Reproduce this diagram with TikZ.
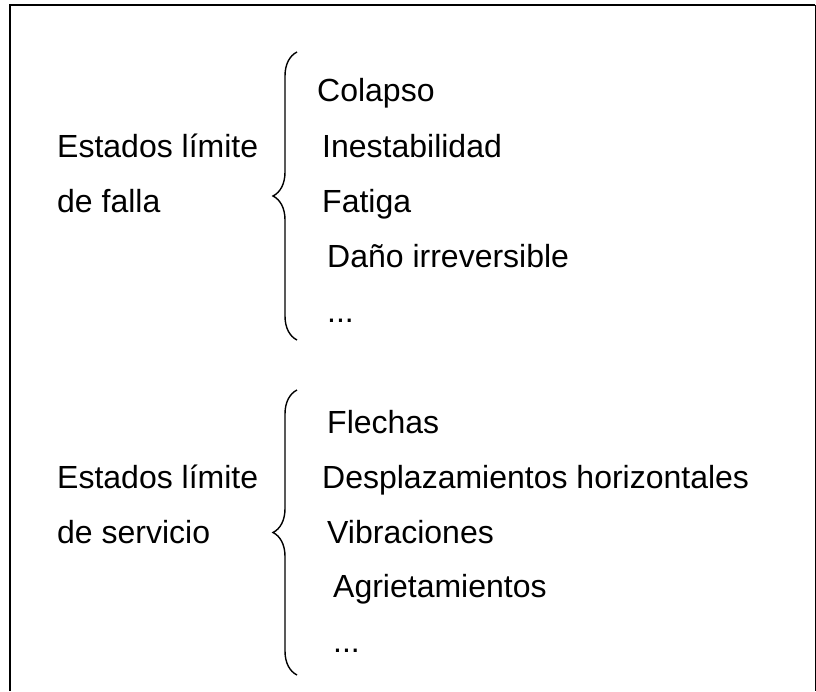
\documentclass[tikz,border=0pt]{standalone}
\usepackage{fontspec}
\setmainfont{Liberation Sans}
\usetikzlibrary{decorations.pathreplacing}
\tikzset{
    framelinea/.style={line width=2pt},
    grouplabel/.style={anchor=base west,inner sep=0pt,font=\fontsize{32}{38}\selectfont},
    groupitem/.style={anchor=base west,inner sep=0pt,font=\fontsize{32}{38}\selectfont},
    groupbrace/.style={decorate,decoration={brace,amplitude=24pt},line width=1.4pt}
}
\begin{document}
\begin{tikzpicture}[x=1pt,y=-1pt]
            \useasboundingbox (0,0) rectangle (816,691);
            % marco
            \draw[framelinea] (10,691) -- (10,5) -- (815,5);
            \draw[line width=1pt] (815,5) -- (815,691);
            % estados limite de falla
            \node[grouplabel] (fallaa) at (57,157) {Estados límite};
            \node[grouplabel] (fallab) at (57,212) {de falla};
            \coordinate (fallatop) at (297,52);
            \coordinate (fallabot) at (297,340);
            \draw[groupbrace] (fallabot) -- (fallatop);
            \node[groupitem] (colapso) at (317,101) {Colapso};
            \node[groupitem] (inestab) at (322,157) {Inestabilidad};
            \node[groupitem] (fatiga) at (322,212) {Fatiga};
            \node[groupitem] (dano) at (327,267) {Daño irreversible};
            \node[groupitem] (fallaetc) at (327,322) {...};
            % estados limite de servicio
            \node[grouplabel] (servicioa) at (57,488) {Estados límite};
            \node[grouplabel] (serviciob) at (57,543) {de servicio};
            \coordinate (serviciotop) at (297,390);
            \coordinate (serviciobot) at (297,675);
            \draw[groupbrace] (serviciobot) -- (serviciotop);
            \node[groupitem] (flechas) at (327,433) {Flechas};
            \node[groupitem] (desplaz) at (322,488) {Desplazamientos horizontales};
            \node[groupitem] (vibra) at (327,543) {Vibraciones};
            \node[groupitem] (grietas) at (333,597) {Agrietamientos};
            \node[groupitem] (servicioetc) at (333,652) {...};
        \end{tikzpicture}
\end{document}
